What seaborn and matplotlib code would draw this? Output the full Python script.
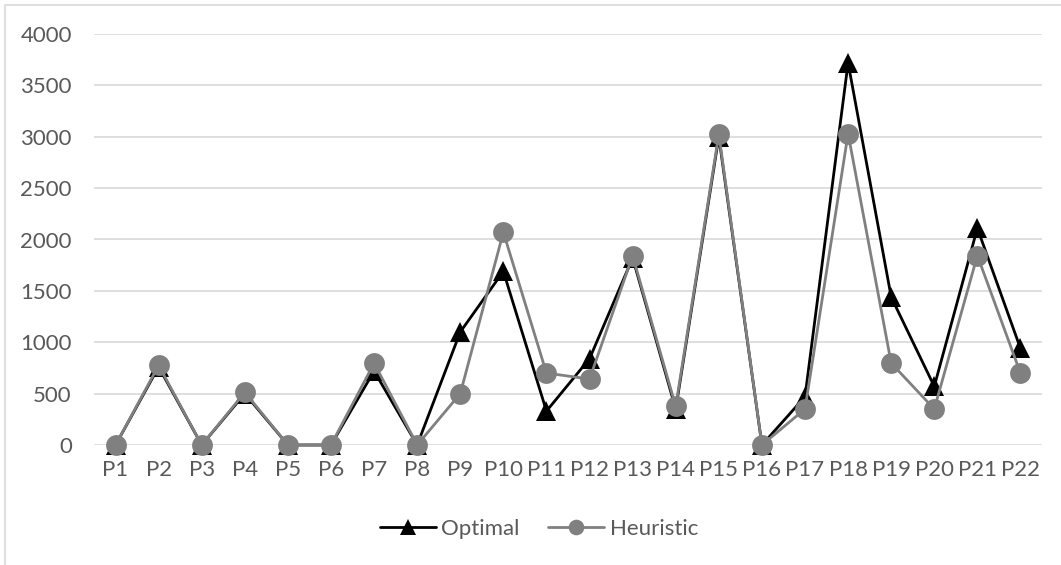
import pandas as pd
import numpy as np
import seaborn as sns
import matplotlib.pyplot as plt
from matplotlib.patches import Rectangle

sns.set_theme(style="white")
plt.rcParams['font.family'] = ['Lato', 'DejaVu Sans']

# Datos
problemas = [f"P{i}" for i in range(1, 23)]
optimal = [0, 760, 0, 500, 0, 0, 720, 0, 1100, 1690, 330, 840,
           1820, 350, 3000, 0, 470, 3720, 1440, 570, 2110, 940]
heuristic = [0, 775, 0, 512, 0, 0, 797, 0, 500, 2071, 700, 642,
             1841, 376, 3024, 0, 350, 3030, 797, 350, 1844, 700]

df = pd.DataFrame({"Problema": problemas, "Optimal": optimal, "Heuristic": heuristic})
df["pos"] = np.arange(len(df))

texto = "#595959"
fs = 16
fig = plt.figure(figsize=(10.61, 5.65), dpi=100)
ax = fig.add_axes([94 / 1061, 1 - 445 / 565, (1042 - 94) / 1061, (445 - 34) / 565])

# Series
sns.lineplot(data=df, x="pos", y="Optimal", ax=ax, color="black", lw=2,
             marker="^", ms=15, mec="black", mew=0, label="Optimal", sort=False,
             clip_on=False)
sns.lineplot(data=df, x="pos", y="Heuristic", ax=ax, color="#808080", lw=2,
             marker="o", ms=15, mec="#808080", mew=0, label="Heuristic", sort=False,
             clip_on=False)

ax.set_xlim(-0.5, len(df) - 0.5)
ax.set_ylim(0, 4000)
ax.set_yticks(np.arange(0, 4001, 500))
ax.set_xticks(df["pos"])
ax.set_xticklabels(problemas)
ax.set_xlabel("")
ax.set_ylabel("")
ax.grid(axis='y', color="#d9d9d9", lw=1.2)
ax.set_axisbelow(True)
for s in ax.spines.values():
    s.set_visible(False)
ax.tick_params(axis='both', length=0, labelsize=fs, labelcolor=texto)
ax.tick_params(axis='y', pad=16)
ax.tick_params(axis='x', pad=11)

# Leyenda abajo
handles, labels = ax.get_legend_handles_labels()
ax.legend(handles, labels, loc='center', bbox_to_anchor=(0.508, 1 - 529 / 565),
          bbox_transform=fig.transFigure, ncol=2, frameon=False, fontsize=fs,
          handlelength=2.5, columnspacing=1.3, handletextpad=0.25, labelcolor=texto,
          markerscale=0.75)

# Borde del área del gráfico
fig.patches.append(Rectangle((5 / 1061, -0.1), 1.2, 1.1 - 5 / 565,
                             transform=fig.transFigure, fill=False,
                             edgecolor="#d9d9d9", lw=1.2))

fig.savefig("out.png", dpi=100)
